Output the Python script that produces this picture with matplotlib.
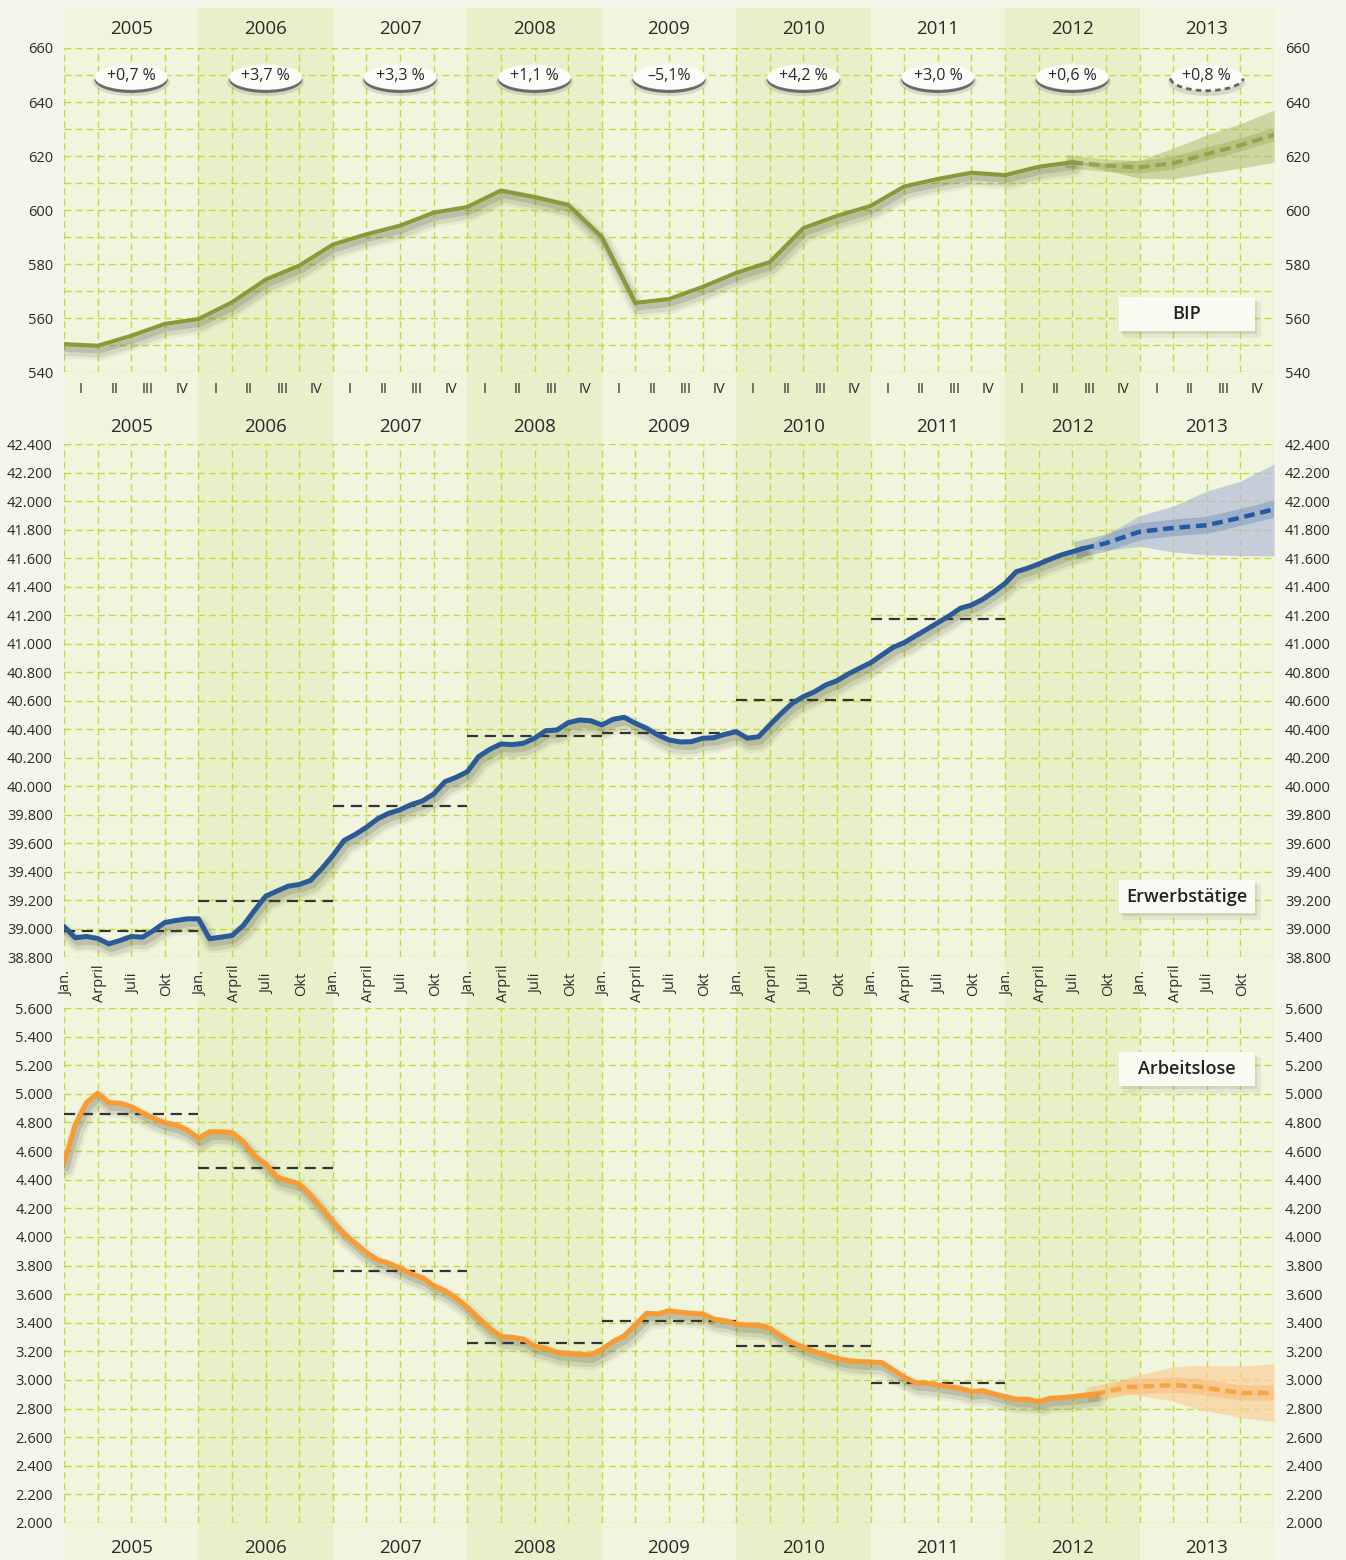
import numpy as np
import matplotlib
matplotlib.use('Agg')
import matplotlib.pyplot as plt
from matplotlib import patheffects as pe
from matplotlib.patches import Ellipse, Arc, Rectangle
from matplotlib.transforms import blended_transform_factory

W, H = 1346, 1560

# ---- data ----
years = [2005, 2006, 2007, 2008, 2009, 2010, 2011, 2012, 2013]
quarter_names = ['I', 'II', 'III', 'IV']
month_names = ['Jan.', 'Arpril', 'Juli', 'Okt']

# BIP, quarterly (index 0 = 2005 I)
bip = [550.3, 549.7, 553.4, 557.8, 559.6, 565.8, 574.2, 579.4, 587.2, 591.0,
       594.2, 599.0, 601.1, 607.2, 604.8, 601.9, 590.0, 565.6, 567.0, 571.5,
       576.7, 580.7, 593.3, 597.8, 601.5, 608.7, 611.5, 613.8, 612.9, 616.0,
       617.7]
bip_fc_x = [30, 31, 32, 33, 34, 35, 36]
bip_fc = [617.7, 616.4, 615.8, 617.3, 620.7, 624.0, 627.8]
bip_fc_hi = [617.7, 617.5, 618.5, 622.9, 627.8, 632.0, 637.0]
bip_fc_lo = [617.7, 614.8, 611.7, 611.5, 613.6, 615.5, 617.7]
bip_growth = ['+0,7 %', '+3,7 %', '+3,3 %', '+1,1 %', '\u20135,1%',
              '+4,2 %', '+3,0 %', '+0,6 %', '+0,8 %']

# Erwerbstaetige, monthly (index 0 = Jan 2005), in 1000
erw = [39014, 38935, 38944, 38930, 38892, 38916, 38944, 38939, 38986, 39042,
       39056, 39068, 39068,
       38928, 38939, 38951, 39021, 39126, 39227, 39262, 39297, 39309, 39337,
       39419, 39512,
       39618, 39660, 39711, 39770, 39809, 39833, 39870, 39895,
       39944, 40030, 40061, 40100, 40206, 40257, 40295, 40290, 40300, 40335,
       40388, 40393,
       40444, 40463, 40458, 40428, 40468, 40482, 40440, 40405, 40358, 40323,
       40309, 40311,
       40335, 40339, 40363, 40381, 40335, 40346, 40428, 40508,
       40580, 40627, 40662, 40709, 40739, 40786, 40826, 40865, 40919, 40973,
       41006, 41053,
       41099, 41146, 41193, 41247, 41270, 41310, 41363, 41422, 41504, 41528,
       41558, 41591, 41621, 41644, 41668]
erw_avg = [38980, 39195, 39860, 40350, 40370, 40605, 41170]
erw_fc_x = [91, 93, 96, 99, 102, 105, 108]
erw_fc = [41668, 41704, 41784, 41811, 41830, 41883, 41942]
erw_fc_hi = [41668, 41763, 41897, 41964, 42070, 42139, 42260]
erw_fc_lo = [41668, 41655, 41682, 41642, 41623, 41617, 41615]

# Arbeitslose, monthly (index 0 = Jan 2005), in 1000
alo = [4514, 4782, 4938, 5004, 4938, 4934, 4910, 4868, 4829, 4798, 4782, 4747,
       4689,
       4735, 4735, 4728, 4666, 4565, 4510, 4417, 4393, 4370, 4293, 4200, 4107,
       4021, 3955, 3890, 3839, 3815, 3780, 3741, 3714,
       3657, 3624, 3571, 3508, 3431, 3361, 3302, 3298, 3286, 3237, 3221, 3193,
       3186, 3179, 3175, 3214, 3267, 3309, 3384, 3466, 3461, 3484, 3473, 3466,
       3461, 3424, 3414, 3391, 3384, 3384, 3361, 3308,
       3261, 3228, 3198, 3174, 3151, 3135, 3128, 3126, 3121, 3070, 3019, 2981,
       2977, 2965, 2953, 2942, 2918, 2925, 2902, 2883, 2865, 2865, 2848, 2872,
       2876, 2883, 2893, 2902]
alo_avg = [4860, 4480, 3760, 3255, 3410, 3237, 2976]
alo_fc_x = [92, 95, 99, 101, 105, 108]
alo_fc = [2902, 2950, 2964, 2955, 2909, 2909]
alo_fc_hi = [2902, 3020, 3089, 3102, 3096, 3114]
alo_fc_lo = [2902, 2905, 2851, 2800, 2738, 2708]

# ---- style ----
BG = '#f4f6e9'
LIGHT = '#f1f5de'
DARK = '#e8f0c9'
GRID = '#c6da3e'
TXT = '#2a2a2a'
OLIVE = '#8a9a3a'
BLUE = '#2a5a98'
ORANGE = '#f89b33'

plt.rcParams['font.family'] = ['Open Sans', 'DejaVu Sans']
plt.rcParams['text.color'] = TXT
plt.rcParams['xtick.color'] = TXT
plt.rcParams['ytick.color'] = TXT

fig = plt.figure(figsize=(W / 100, H / 100), dpi=100, facecolor=BG)


def rect(x0, y0, x1, y1):
    return [x0 / W, 1 - y1 / H, (x1 - x0) / W, (y1 - y0) / H]


def de_fmt(v, pos=None):
    return f'{v:,.0f}'.replace(',', '.')


def shadow(lw):
    # soft grey drop shadow under the lines
    return [pe.SimpleLineShadow(offset=(2, -4.5), shadow_color='#3e3e28', alpha=0.06, linewidth=lw + 9),
            pe.SimpleLineShadow(offset=(2, -4.5), shadow_color='#3e3e28', alpha=0.10, linewidth=lw + 5),
            pe.SimpleLineShadow(offset=(1.5, -3.5), shadow_color='#3e3e28', alpha=0.16, linewidth=lw + 1),
            pe.Normal()]


# year bands behind everything
bg = fig.add_axes(rect(64, 8, 1274, 1560), zorder=0)
bg.set_xlim(0, 9)
bg.set_ylim(0, 1)
bg.axis('off')
for i in range(len(years)):
    bg.axvspan(i, i + 1, color=DARK if i % 2 else LIGHT, lw=0)

grid_kw = dict(color=GRID, lw=1.0, ls=(0, (5, 3)))


def setup(ax, ymin, ymax, step, xmax, xstep):
    ax.set_facecolor('none')
    ax.set_xlim(0, xmax)
    ax.set_ylim(ymin, ymax)
    for s in ax.spines.values():
        s.set_visible(False)
    ax.set_yticks(np.arange(ymin, ymax + 1, step))
    ax.set_xticks(np.arange(0, xmax + 1, xstep), minor=True)
    ax.grid(which='major', axis='y', **grid_kw)
    ax.grid(which='minor', axis='x', **grid_kw)
    ax.tick_params(axis='both', which='both', length=0)
    ax.tick_params(axis='y', labelleft=True, labelright=True, pad=8, labelsize=10.5)


def year_labels(ax, yfrac, per_year):
    tr = blended_transform_factory(ax.transData, ax.transAxes)
    for i, y in enumerate(years):
        ax.text(per_year * i + per_year / 2, yfrac, str(y), transform=tr,
                ha='center', va='center', fontsize=13.5, color=TXT)


# ---- BIP ----
ax1 = fig.add_axes(rect(64, 48, 1274, 372), zorder=1)
setup(ax1, 540, 660, 20, 36, 1)
ax1.set_yticks(np.arange(550, 660, 20), minor=True)
ax1.grid(which='minor', axis='y', **grid_kw)
ax1.set_xticks(np.arange(36) + 0.5, labels=quarter_names * 9)
ax1.tick_params(axis='x', pad=7, labelsize=10.5)
year_labels(ax1, 1 + 19 / 324, 4)

ax1.fill_between(bip_fc_x, bip_fc_lo, bip_fc_hi, color='#b0bb72', alpha=0.55, lw=0, zorder=2)
ax1.plot(bip_fc_x, bip_fc, color='#93a04a', lw=9, alpha=0.35, zorder=2)
ax1.plot(bip_fc_x, bip_fc, color='#95a34e', lw=3, ls=(0, (2.6, 1.4)), zorder=3)
ax1.plot(range(len(bip)), bip, color=OLIVE, lw=3, solid_capstyle='round',
         solid_joinstyle='round', path_effects=shadow(3), zorder=4)

for i, lab in enumerate(bip_growth):
    cx = 4 * i + 2
    ax1.add_patch(Ellipse((cx, 647.4), 2.3, 10.4, fc='#888888', alpha=0.25, lw=0, zorder=5))
    if i < len(bip_growth) - 1:
        ax1.add_patch(Ellipse((cx, 648.2), 2.17, 9.7, fc='#6a6a6a', lw=0, zorder=5))
        ax1.add_patch(Ellipse((cx, 649.2), 2.17, 9.4, fc='#fbfbf8', lw=0, zorder=6))
    else:
        ax1.add_patch(Ellipse((cx, 649.0), 2.17, 9.6, fc='#fbfbf8', lw=0, zorder=6))
        ax1.add_patch(Arc((cx, 649.0), 2.17, 9.6, theta1=195, theta2=345, color='#666666',
                          lw=2, ls=(0, (2, 1.5)), zorder=7))
    ax1.text(cx, 649.6, lab, ha='center', va='center', fontsize=11.5, color=TXT, zorder=8)

# ---- Erwerbstaetige ----
ax2 = fig.add_axes(rect(64, 444, 1274, 957), zorder=1)
setup(ax2, 38800, 42400, 200, 108, 3)
ax2.yaxis.set_major_formatter(de_fmt)
ax2.set_xticks(np.arange(0, 108, 3) + 0.2)
ax2.set_xticklabels(month_names * 9, rotation=90, va='center', ha='center')
ax2.tick_params(axis='x', pad=19, labelsize=10.5)
year_labels(ax2, 1 + 17 / 513, 12)

ax2.fill_between(erw_fc_x, erw_fc_lo, erw_fc_hi, color='#b2bdd6', alpha=0.7, lw=0, zorder=2)
ax2.plot(erw_fc_x, erw_fc, color='#5c7cb2', lw=12, alpha=0.35, zorder=2)
ax2.plot(erw_fc_x, erw_fc, color='#2459a3', lw=3.2, ls=(0, (2.4, 1.3)), zorder=3)
for i, v in enumerate(erw_avg):
    ax2.hlines(v, 12 * i, 12 * i + 12, colors='#333333', lw=1.6, ls=(0, (5, 3)), zorder=3)
ax2.plot(range(len(erw)), erw, color=BLUE, lw=3.6, solid_joinstyle='round',
         solid_capstyle='round', path_effects=shadow(3.6), zorder=4)

# ---- Arbeitslose ----
ax3 = fig.add_axes(rect(64, 1008, 1274, 1523), zorder=1)
setup(ax3, 2000, 5600, 200, 108, 3)
ax3.yaxis.set_major_formatter(de_fmt)
ax3.set_xticks([])
year_labels(ax3, -25 / 515, 12)

ax3.fill_between(alo_fc_x, alo_fc_lo, alo_fc_hi, color='#fbcf9c', alpha=0.7, lw=0, zorder=2)
ax3.plot(alo_fc_x, alo_fc, color='#f7b46a', lw=11, alpha=0.45, zorder=2)
ax3.plot(alo_fc_x, alo_fc, color='#f7a445', lw=3.2, ls=(0, (2.4, 1.3)), zorder=3)
for i, v in enumerate(alo_avg):
    ax3.hlines(v, 12 * i, 12 * i + 12, colors='#333333', lw=1.6, ls=(0, (5, 3)), zorder=3)
ax3.plot(range(len(alo)), alo, color=ORANGE, lw=3.6, solid_joinstyle='round',
         solid_capstyle='round', path_effects=shadow(3.6), zorder=4)

# ---- label boxes (pixel overlay) ----
fg = fig.add_axes([0, 0, 1, 1], zorder=3)
fg.set_xlim(0, W)
fg.set_ylim(H, 0)
fg.axis('off')
for name, y0, y1 in [('BIP', 297, 331), ('Erwerbst\u00e4tige', 880, 913), ('Arbeitslose', 1052, 1086)]:
    fg.add_patch(Rectangle((1123, y0 + 5), 138, y1 - y0 + 2, fc='#7a7f60', alpha=0.10, lw=0))
    fg.add_patch(Rectangle((1121, y0 + 3), 136, y1 - y0, fc='#7a7f60', alpha=0.18, lw=0))
    fg.add_patch(Rectangle((1119, y0), 136, y1 - y0, fc='#f9faf2', lw=0))
    fg.text(1187, (y0 + y1) / 2, name, ha='center', va='center', fontsize=13,
            fontweight='semibold', color='#222222')

fig.savefig('out.png', dpi=100, facecolor=BG)
